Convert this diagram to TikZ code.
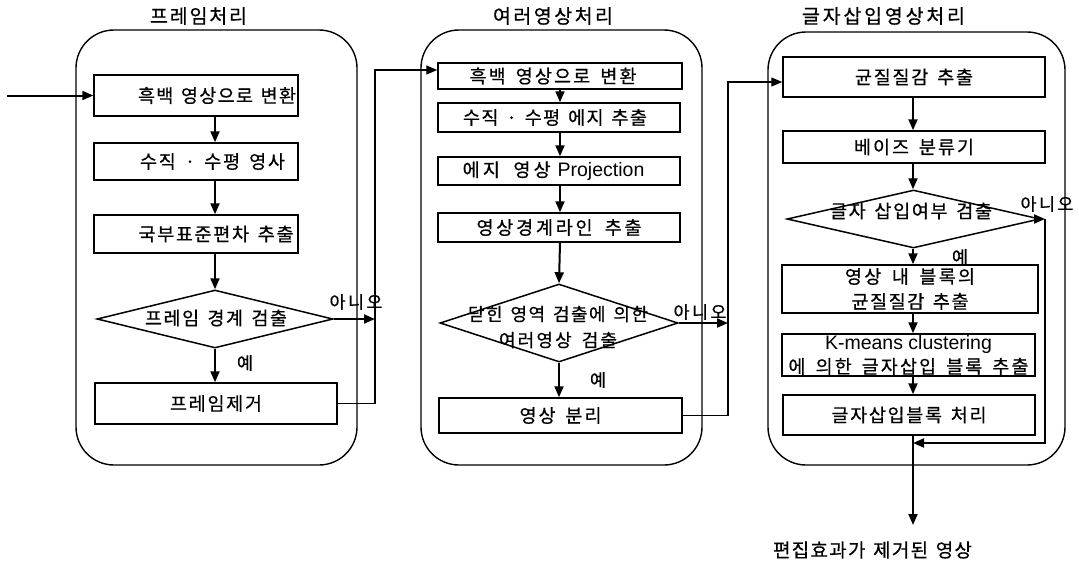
\documentclass[tikz,border=0pt]{standalone}
\usepackage{fontspec}
\setmainfont[FakeBold=0.6]{Noto Sans CJK KR}
\newfontfamily\lat{Liberation Sans}
\usetikzlibrary{shapes.geometric,arrows.meta}
% spread the letters of a text evenly over a given width (~ marks a word space)
\makeatletter
\def\lsp@end{\lsp@end}
\newcommand\LSP[2]{\makebox[#1][s]{\lsp@loop#2\lsp@end}}
\def\lsp@loop#1#2{%
  \ifx#1~\hskip0.2em plus 1fil\relax\else#1\fi
  \ifx#2\lsp@end\else\hskip0pt plus 1fil\relax\expandafter\lsp@loop\expandafter#2\fi}
\makeatother
% shift a text sideways inside its box
\newcommand\shx[2]{\makebox[0pt]{\hspace{#1}#2}}
\tikzset{
  panel/.style={draw, line width=1.4pt, rounded corners=38pt, inner sep=0pt},
  box/.style={draw, line width=1.5pt, inner sep=0pt, align=center, font=\fontsize{18.5}{20}\selectfont},
  dia/.style={draw, diamond, line width=1.5pt, inner sep=0pt},
  txt/.style={inner sep=0pt, align=center, font=\fontsize{18.5}{20}\selectfont},
  lbl/.style={inner sep=0pt, font=\fontsize{17.5}{20}\selectfont},
  ttl/.style={inner sep=0pt, font=\fontsize{19.5}{22}\selectfont},
  arr/.style={line width=2pt, -{Triangle[length=11pt,width=9pt]}},
  arrthin/.style={line width=1.4pt, -{Triangle[length=11pt,width=9pt]}},
}
\begin{document}
\begin{tikzpicture}[x=1pt,y=-1pt]
\useasboundingbox (0,0) rectangle (1079,560);
% panels
\node[panel, minimum width=281pt, minimum height=435pt] (pan1) at (216.5,247.5) {};
\node[panel, minimum width=281pt, minimum height=435pt] (pan2) at (561.5,247.5) {};
\node[panel, minimum width=297pt, minimum height=433pt] (pan3) at (916.5,248.5) {};
\node[ttl] (t1) at (198.5,16) {\LSP{97pt}{프레임처리}};
\node[ttl] (t2) at (553,16) {\LSP{120pt}{여러영상처리}};
\node[ttl] (t3) at (883.5,16) {\LSP{163pt}{글자삽입영상처리}};
% helper coordinates
\coordinate (x1) at (215,0);
\coordinate (x2) at (560,0);
\coordinate (x3) at (913,0);
\coordinate (in) at (7,95.5);
\coordinate (v1) at (375,70);
\coordinate (v2) at (728,82);
\coordinate (v3) at (1045,219);
\coordinate (m3) at (913,443);
\coordinate (oe) at (913,525);
% panel 1
\node[box, minimum width=204pt, minimum height=41pt] (p1a) at (196,95.5) {\shx{42pt}{\LSP{158pt}{흑백~영상으로~변환}}};
\node[box, minimum width=204pt, minimum height=37pt] (p1b) at (196,161.5) {\shx{33pt}{\LSP{145pt}{수직~·~수평~영사}}};
\node[box, minimum width=204pt, minimum height=38pt] (p1c) at (196,234) {\shx{40pt}{\LSP{155pt}{국부표준편차~추출}}};
\node[dia, minimum width=236pt, minimum height=58pt] (p1d) at (215,319) {};
\node[txt] (p1dt) at (216,318) {\LSP{142pt}{프레임~경계~검출}};
\node[box, minimum width=242pt, minimum height=41pt] (p1e) at (216,403.5) {\LSP{92pt}{프레임제거}};
\node[lbl] (y1) at (245,363) {예};
\node[lbl] (n1) at (356,302) {\LSP{53pt}{아니오}};
% panel 2
\node[box, minimum width=244pt, minimum height=26pt] (p2a) at (560,76) {\shx{-14pt}{\LSP{167pt}{흑백~영상으로~변환}}};
\node[box, minimum width=242pt, minimum height=29pt] (p2b) at (559,117.5) {\shx{-8pt}{\LSP{184pt}{수직~·~수평~에지~추출}}};
\node[box, minimum width=242pt, minimum height=28pt] (p2c) at (559,171) {\shx{-11pt}{\LSP{88pt}{에지~영상}\hspace{7pt}{\lat\fontsize{19.5}{20}\selectfont Projection}}};
\node[box, minimum width=242pt, minimum height=29pt] (p2d) at (559,227.5) {\LSP{165pt}{영상경계라인~추출}};
\node[dia, minimum width=238pt, minimum height=78pt] (p2e) at (559,323) {};
\node[txt, font=\fontsize{18}{26}\selectfont] (p2et) at (558,327) {\LSP{180pt}{닫힌~영역~검출에~의한}\\\LSP{118pt}{여러영상~검출}};
\node[box, minimum width=243pt, minimum height=35pt] (p2f) at (560.5,415.5) {\LSP{82pt}{영상~분리}};
\node[lbl] (y2) at (598,380) {예};
\node[lbl] (n2) at (700,312) {\LSP{53pt}{아니오}};
% panel 3
\node[box, minimum width=262pt, minimum height=40pt] (p3a) at (914,77) {\LSP{118pt}{균질질감~추출}};
\node[box, minimum width=262pt, minimum height=32pt] (p3b) at (914,147) {\LSP{120pt}{베이즈~분류기}};
\node[dia, minimum width=253pt, minimum height=58pt] (p3c) at (913.5,219) {};
\node[txt] (p3ct) at (911,211) {\LSP{162pt}{글자~삽입여부~검출}};
\node[box, minimum width=256pt, minimum height=48pt, font=\fontsize{18.5}{25}\selectfont] (p3d) at (910,289) {\LSP{130pt}{영상~내~블록의}\\\LSP{117pt}{균질질감~추출}};
\node[box, minimum width=253pt, minimum height=42pt, font=\fontsize{18.5}{24}\selectfont] (p3e) at (908.5,355) {{\lat\fontsize{19.5}{24}\selectfont K-means clustering}\\\LSP{240pt}{에~의한~글자삽입~블록~추출}};
\node[box, minimum width=252pt, minimum height=40pt] (p3f) at (909,415) {\LSP{155pt}{글자삽입블록~처리}};
\node[lbl] (y3) at (960,257) {예};
\node[lbl] (n3) at (1047,204) {\LSP{53pt}{아니오}};
\node[txt, font=\fontsize{19}{22}\selectfont] (out) at (872.5,550) {\LSP{199pt}{편집효과가~제거된~영상}};
% connectors panel 1
\draw[arr] (in) -- (p1a.west);
\draw[arr] (p1a.south -| x1) -- (p1b.north -| x1);
\draw[arr] (p1b.south -| x1) -- (p1c.north -| x1);
\draw[arr] (p1c.south -| x1) -- (p1d.north);
\draw[arr] (p1d.south) -- (p1e.north -| p1d.south);
\draw[arr] (p1d.east) -- (p1d.east -| v1);
\draw[arrthin] (p1e.east) -| (v1) -- (v1 -| p2a.west);
% connectors panel 2
\draw[arr] (p2a.south -| x2) -- (p2b.north -| x2);
\draw[arr] (p2b.south -| x2) -- (p2c.north -| x2);
\draw[arr] (p2c.south -| x2) -- (p2d.north -| x2);
\draw[arr] (p2d.south -| x2) -- (p2e.north);
\draw[arr] (p2e.south) -- (p2f.north -| p2e.south);
\draw[arr] (p2e.east) -- (p2e.east -| v2);
\draw[arrthin] (p2f.east) -| (v2) -- (v2 -| p3a.west);
% connectors panel 3
\draw[arr] (p3a.south -| x3) -- (p3b.north -| x3);
\draw[arr] (p3b.south -| x3) -- (p3c.north -| x3);
\draw[arr] (p3c.south -| x3) -- (p3d.north -| x3);
\draw[arr] (p3d.south -| x3) -- (p3e.north -| x3);
\draw[arr] (p3e.south -| x3) -- (p3f.north -| x3);
\draw[arr] (p3f.south -| x3) -- (oe);
\draw[arr] (p3c.east) -- (v3);
\draw[arr] (v3) |- (m3);
\end{tikzpicture}
\end{document}
